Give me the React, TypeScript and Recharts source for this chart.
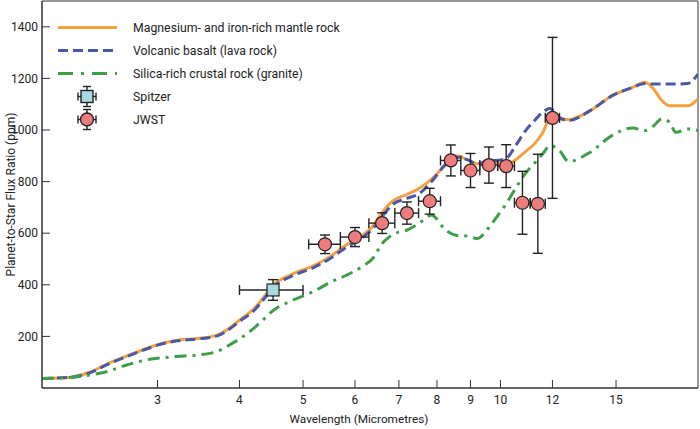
import React from "react";
import {
  ComposedChart,
  Line,
  Scatter,
  ErrorBar,
  XAxis,
  YAxis,
  ReferenceArea,
  Legend,
} from "recharts";

// Wavelength grid (micrometres) used by the three model spectra
const wavelengths = [
  2.0, 2.2, 2.36, 2.5, 2.7, 2.9, 3.0, 3.2, 3.45, 3.7, 3.85, 4.0, 4.2, 4.35, 4.5,
  4.8, 5.2, 5.5, 5.8, 6.15, 6.4, 6.6, 6.85, 7.2, 7.5, 7.85, 8.25, 8.55, 8.95,
  9.2, 9.6, 9.85, 10.2, 10.55, 10.9, 11.3, 11.6, 11.9, 12.3, 12.7, 13.7, 14.8,
  15.9, 16.6, 17.1, 17.6, 18.1, 18.5, 19.3, 20,
];

const mantleRock = [
  37, 41, 60, 90, 125, 155, 168, 184, 192, 205, 230, 263, 305, 350, 398, 440,
  475, 510, 552, 590, 630, 680, 725, 750, 772, 810, 865, 900, 882, 869, 868,
  869, 865, 885, 915, 950, 990, 1045, 1043, 1040, 1075, 1133, 1165, 1185, 1160,
  1115, 1094, 1094, 1094, 1120,
];

const basaltRock = [
  37, 41, 58, 88, 123, 153, 166, 182, 190, 202, 226, 258, 298, 342, 390, 433,
  468, 502, 543, 582, 620, 665, 712, 735, 752, 800, 868, 895, 882, 868, 882,
  882, 890, 940, 995, 1040, 1070, 1083, 1048, 1037, 1075, 1133, 1165, 1180,
  1178, 1178, 1178, 1178, 1180, 1217,
];

const graniteRock = [
  37, 41, 50, 62, 90, 110, 115, 122, 128, 142, 165, 190, 230, 265, 300, 338,
  375, 410, 435, 470, 505, 560, 595, 612, 637, 670, 612, 592, 588, 579, 622,
  660, 714, 775, 830, 875, 908, 940, 920, 878, 914, 979, 1008, 998, 1015, 1043,
  1030, 991, 1004, 998,
];

// Observations
const spitzerWl = [4.5];
const spitzerVal = [380];
const spitzerWlErr = [0.5];
const spitzerValErr = [40];

const jwstWl = [5.4, 6.0, 6.6, 7.2, 7.8, 8.4, 9.0, 9.6, 10.2, 10.8, 11.4, 12.0];
const jwstVal = [557, 585, 639, 678, 724, 882, 843, 864, 860, 718, 714, 1047];
const jwstWlErr = [0.3, 0.3, 0.3, 0.3, 0.3, 0.3, 0.3, 0.3, 0.3, 0.3, 0.3, 0.3];
const jwstValErr = [36, 37, 40, 43, 50, 60, 66, 70, 83, 122, 192, 312];

const xTicks = [3, 4, 5, 6, 7, 8, 9, 10, 12, 15];
const yTicks = [200, 400, 600, 800, 1000, 1200, 1400];

const legendLabels = [
  "Magnesium- and iron-rich mantle rock",
  "Volcanic basalt (lava rock)",
  "Silica-rich crustal rock (granite)",
  "Spitzer",
  "JWST",
];

const ORANGE = "#F5A040";
const BLUE = "#4A58A8";
const GREEN = "#3E9E4A";
const SPITZER_FILL = "#A9D9E3";
const JWST_FILL = "#EF7C7C";
const INK = "#222";
const FONT = "Roboto, 'Noto Sans', sans-serif";

const modelData = wavelengths.map((wl, i) => ({
  wl,
  mantle: mantleRock[i],
  basalt: basaltRock[i],
  granite: graniteRock[i],
}));

const spitzerData = spitzerWl.map((wl, i) => ({
  wl,
  val: spitzerVal[i],
  xErr: spitzerWlErr[i],
  yErr: spitzerValErr[i],
}));

const jwstData = jwstWl.map((wl, i) => ({
  wl,
  val: jwstVal[i],
  xErr: jwstWlErr[i],
  yErr: jwstValErr[i],
}));

function LegendIcon({ kind }: { kind: number }) {
  const y = 11.5;
  if (kind === 0)
    return <line x1={3} x2={62} y1={y} y2={y} stroke={ORANGE} strokeWidth={3} />;
  if (kind === 1)
    return (
      <line x1={3} x2={62} y1={y} y2={y} stroke={BLUE} strokeWidth={3} strokeDasharray="10 5" />
    );
  if (kind === 2)
    return (
      <line x1={3} x2={62} y1={y} y2={y} stroke={GREEN} strokeWidth={3} strokeDasharray="15 8 3 8" />
    );
  const cx = 32;
  return (
    <g stroke={INK} strokeWidth={1.4}>
      <line x1={cx - 9} x2={cx + 9} y1={y} y2={y} />
      <line x1={cx - 9} x2={cx - 9} y1={y - 4} y2={y + 4} />
      <line x1={cx + 9} x2={cx + 9} y1={y - 4} y2={y + 4} />
      <line x1={cx} x2={cx} y1={y - 10} y2={y + 10} />
      <line x1={cx - 4} x2={cx + 4} y1={y - 10} y2={y - 10} />
      <line x1={cx - 4} x2={cx + 4} y1={y + 10} y2={y + 10} />
      {kind === 3 ? (
        <rect x={cx - 6} y={y - 6} width={12} height={12} fill={SPITZER_FILL} />
      ) : (
        <circle cx={cx} cy={y} r={6.5} fill={JWST_FILL} />
      )}
    </g>
  );
}

function CustomLegend() {
  return (
    <div style={{ fontFamily: FONT, fontSize: 12.3, color: INK }}>
      {legendLabels.map((label, i) => (
        <div key={label} style={{ display: "flex", alignItems: "center", height: 23 }}>
          <svg width={78} height={23} style={{ flex: "none" }}>
            <LegendIcon kind={i} />
          </svg>
          <span style={{ whiteSpace: "nowrap" }}>{label}</span>
        </div>
      ))}
    </div>
  );
}

const JwstShape = (props: any) => (
  <circle cx={props.cx} cy={props.cy} r={6.5} fill={JWST_FILL} stroke={INK} strokeWidth={1.2} />
);

const SpitzerShape = (props: any) => (
  <rect
    x={props.cx - 6}
    y={props.cy - 6}
    width={12}
    height={12}
    fill={SPITZER_FILL}
    stroke={INK}
    strokeWidth={1.2}
  />
);

const YLabel = (props: any) => {
  const vb = props.viewBox || {};
  const x = vb.x + 11;
  const y = vb.y + vb.height / 2;
  return (
    <text
      x={x}
      y={y}
      transform={`rotate(-90, ${x}, ${y})`}
      textAnchor="middle"
      dominantBaseline="central"
      fontFamily={FONT}
      fontSize={12}
      fill={INK}
    >
      Planet-to-Star Flux Ratio (ppm)
    </text>
  );
};

const XLabel = (props: any) => {
  const vb = props.viewBox || {};
  return (
    <text
      x={vb.x + vb.width / 2 - 11}
      y={vb.y + 35}
      textAnchor="middle"
      fontFamily={FONT}
      fontSize={11.8}
      fill={INK}
    >
      Wavelength (Micrometres)
    </text>
  );
};

export default function App() {
  return (
    <div style={{ position: "absolute", left: 0, top: 0, width: 700, height: 429, background: "#fff" }}>
      <ComposedChart
        width={700}
        height={429}
        data={modelData}
        margin={{ top: 1, right: 2, bottom: 0, left: 0 }}
        style={{ fontFamily: FONT }}
      >
        <XAxis
          dataKey="wl"
          type="number"
          scale="log"
          domain={[2, 20]}
          allowDataOverflow
          ticks={xTicks}
          interval={0}
          height={41}
          tickSize={-8}
          tickMargin={15}
          tick={{ fontSize: 12, fill: INK, fontFamily: FONT }}
          tickLine={{ stroke: "#333" }}
          axisLine={{ stroke: "#333" }}
          label={<XLabel />}
        />
        <YAxis
          type="number"
          domain={[0, 1500]}
          allowDataOverflow
          ticks={yTicks}
          interval={0}
          width={42}
          tickSize={-8}
          tickMargin={12}
          tick={{ fontSize: 12, fill: INK, fontFamily: FONT }}
          tickLine={{ stroke: "#333" }}
          axisLine={{ stroke: "#333" }}
          label={<YLabel />}
        />
        <ReferenceArea x1={2} x2={20} y1={0} y2={1500} fill="none" stroke="#333" strokeWidth={1} />
        <Legend
          layout="vertical"
          align="center"
          verticalAlign="middle"
          content={<CustomLegend />}
          wrapperStyle={{ left: 55, top: 16, width: 340 }}
        />
        <Line
          dataKey="mantle"
          type="monotone"
          stroke={ORANGE}
          strokeWidth={3}
          dot={false}
          activeDot={false}
          isAnimationActive={false}
        />
        <Line
          dataKey="basalt"
          type="monotone"
          stroke={BLUE}
          strokeWidth={3}
          strokeDasharray="10 5"
          dot={false}
          activeDot={false}
          isAnimationActive={false}
        />
        <Line
          dataKey="granite"
          type="monotone"
          stroke={GREEN}
          strokeWidth={3}
          strokeDasharray="12 6 3 6"
          dot={false}
          activeDot={false}
          isAnimationActive={false}
        />
        <Scatter data={spitzerData} dataKey="val" shape={SpitzerShape} isAnimationActive={false}>
          <ErrorBar dataKey="xErr" direction="x" width={5} stroke={INK} strokeWidth={1.4} />
          <ErrorBar dataKey="yErr" direction="y" width={5} stroke={INK} strokeWidth={1.4} />
        </Scatter>
        <Scatter data={jwstData} dataKey="val" shape={JwstShape} isAnimationActive={false}>
          <ErrorBar dataKey="xErr" direction="x" width={5} stroke={INK} strokeWidth={1.4} />
          <ErrorBar dataKey="yErr" direction="y" width={5} stroke={INK} strokeWidth={1.4} />
        </Scatter>
      </ComposedChart>
    </div>
  );
}
